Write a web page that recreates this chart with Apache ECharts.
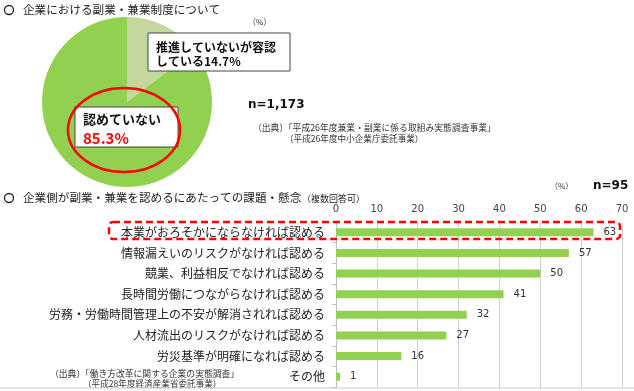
<!DOCTYPE html>
<html>
<head>
<meta charset="utf-8">
<script src="https://cdn.jsdelivr.net/npm/echarts@6/dist/echarts.min.js"></script>
<style>
  html, body { margin: 0; padding: 0; background: #fff; }
  #main { width: 634px; height: 391px; }
</style>
</head>
<body>
<div id="main"></div>
<script>
// pie: company side-job policy (%)
const pieNames = ['推進していないが容認している', '認めていない']
const pieValues = [14.7, 85.3]

// bars: conditions for allowing side jobs (%)
const barCategories = [
  '本業がおろそかにならなければ認める',
  '情報漏えいのリスクがなければ認める',
  '競業、利益相反でなければ認める',
  '長時間労働につながらなければ認める',
  '労務・労働時間管理上の不安が解消されれば認める',
  '人材流出のリスクがなければ認める',
  '労災基準が明確になれば認める',
  'その他'
]
const barValues = [63, 57, 50, 41, 32, 27, 16, 1]
const axisTicks = [0, 10, 20, 30, 40, 50, 60, 70]

const JP = '"Noto Sans CJK JP", sans-serif'
const chart = echarts.init(document.getElementById('main'))

// overlay texts/shapes sit above the pie
const g = (o) => Object.assign({ z: 100 }, o)

const option = {
  backgroundColor: '#fff',
  textStyle: { fontFamily: JP },
  animation: false,
  grid: { left: 336, right: 12, top: 222, bottom: 4 },
  xAxis: {
    type: 'value',
    position: 'top',
    min: axisTicks[0],
    max: axisTicks[axisTicks.length - 1],
    interval: 10,
    axisLine: { show: false },
    axisTick: { show: false },
    axisLabel: { color: '#444', fontSize: 10, fontFamily: 'DejaVu Sans', margin: 8 },
    splitLine: { lineStyle: { color: '#d0d0d0' } }
  },
  yAxis: {
    type: 'category',
    inverse: true,
    data: barCategories,
    axisLine: { lineStyle: { color: '#bfbfbf' } },
    axisTick: { show: true, length: 4, lineStyle: { color: '#bfbfbf' } },
    axisLabel: { color: '#222', fontSize: 12, margin: 11, fontFamily: JP }
  },
  series: [
    {
      type: 'pie',
      center: [127, 102],
      radius: 85,
      startAngle: 90,
      clockwise: true,
      z: 1,
      label: { show: false },
      labelLine: { show: false },
      silent: true,
      data: pieNames.map((n, i) => ({
        name: n,
        value: pieValues[i],
        itemStyle: { color: i === 0 ? '#c4d89d' : '#92d050' }
      }))
    },
    {
      type: 'bar',
      data: barValues,
      barWidth: 8,
      itemStyle: { color: '#92d050' },
      label: {
        show: true,
        position: 'right',
        distance: 10,
        color: '#333',
        fontSize: 10,
        fontFamily: 'DejaVu Sans'
      }
    }
  ],
  graphic: [
    // top section title
    g({ type: 'circle', shape: { cx: 9, cy: 10, r: 4.5 }, style: { fill: 'none', stroke: '#222', lineWidth: 1.3 } }),
    g({ type: 'text', x: 23, y: 10, style: { text: '企業における副業・兼業制度について', font: '11.6px ' + JP, fill: '#222', verticalAlign: 'middle' } }),
    g({ type: 'text', x: 248, y: 22, style: { text: '（%）', font: '8px ' + JP, fill: '#333', verticalAlign: 'middle' } }),

    // pie label boxes
    g({ type: 'rect', shape: { x: 148, y: 33, width: 142, height: 38 }, style: { fill: '#fff', stroke: '#444', lineWidth: 1 } }),
    g({ type: 'text', x: 156, y: 47, style: { text: '推進していないが容認', font: 'bold 12px ' + JP, fill: '#111', verticalAlign: 'middle' } }),
    g({ type: 'text', x: 156, y: 61, style: { text: 'している14.7%', font: 'bold 12px ' + JP, fill: '#111', verticalAlign: 'middle' } }),

    g({ type: 'rect', shape: { x: 75, y: 107, width: 103, height: 40 }, style: { fill: '#fff', stroke: '#444', lineWidth: 1 } }),
    g({ type: 'text', x: 83, y: 119, style: { text: '認めていない', font: 'bold 13px ' + JP, fill: '#111', verticalAlign: 'middle' } }),
    g({ type: 'text', x: 83, y: 138, style: { text: '85.3%', font: 'bold 15px ' + JP, fill: '#ff0000', verticalAlign: 'middle' } }),
    g({ type: 'ellipse', shape: { cx: 124, cy: 130, rx: 56, ry: 42 }, style: { fill: 'none', stroke: '#ff0000', lineWidth: 2.5 } }),

    g({ type: 'text', x: 248, y: 105, style: { text: 'n=1,173', font: 'bold 12px "DejaVu Sans"', fill: '#111', verticalAlign: 'middle' } }),
    g({ type: 'text', x: 253, y: 128, style: { text: '（出典）「平成26年度兼業・副業に係る取組み実態調査事業」', font: '8.8px ' + JP, fill: '#333', verticalAlign: 'middle' } }),
    g({ type: 'text', x: 285, y: 139, style: { text: '（平成26年度中小企業庁委託事業）', font: '8.6px ' + JP, fill: '#333', verticalAlign: 'middle' } }),

    // bottom section title
    g({ type: 'circle', shape: { cx: 9, cy: 198, r: 4.5 }, style: { fill: 'none', stroke: '#222', lineWidth: 1.3 } }),
    g({ type: 'text', x: 23, y: 198, style: { text: '企業側が副業・兼業を認めるにあたっての課題・懸念', font: '11.6px ' + JP, fill: '#222', verticalAlign: 'middle' } }),
    g({ type: 'text', x: 302, y: 199, style: { text: '（複数回答可）', font: '9px ' + JP, fill: '#222', verticalAlign: 'middle' } }),
    g({ type: 'text', x: 550, y: 186, style: { text: '（%）', font: '8px ' + JP, fill: '#333', verticalAlign: 'middle' } }),
    g({ type: 'text', x: 593, y: 186, style: { text: 'n=95', font: 'bold 12px "DejaVu Sans"', fill: '#111', verticalAlign: 'middle' } }),

    // highlight box around first row
    g({ type: 'rect', shape: { x: 109, y: 222, width: 511, height: 17, r: 4 }, style: { fill: 'none', stroke: '#ff0000', lineWidth: 2.5, lineDash: [7, 4] } }),

    g({ type: 'text', x: 50, y: 374, style: { text: '（出典）「働き方改革に関する企業の実態調査」', font: '8.8px ' + JP, fill: '#333', verticalAlign: 'middle' } }),
    g({ type: 'text', x: 83, y: 384, style: { text: '（平成28年度経済産業省委託事業）', font: '8.6px ' + JP, fill: '#333', verticalAlign: 'middle' } }),

    g({ type: 'line', shape: { x1: 0, y1: 388, x2: 634, y2: 388 }, style: { stroke: '#c8c8c8', lineWidth: 1 } })
  ]
}

chart.setOption(option)
</script>
</body>
</html>
